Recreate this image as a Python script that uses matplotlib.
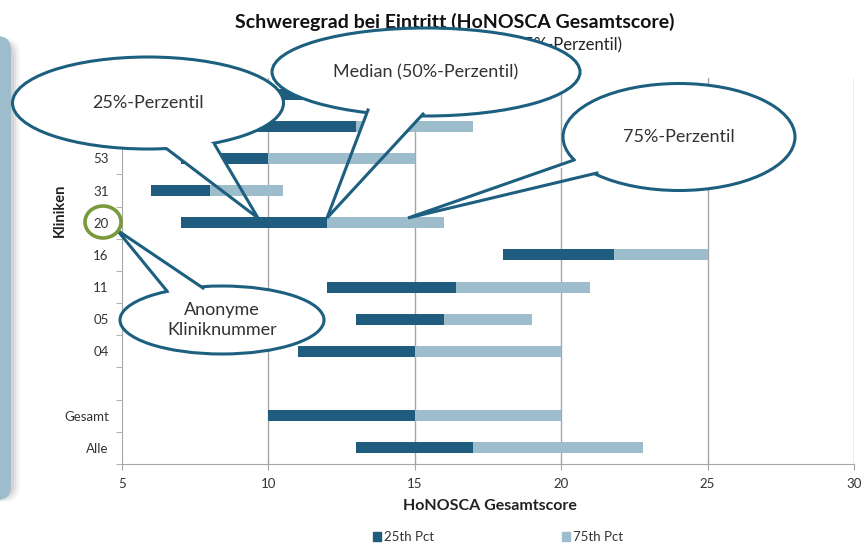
import matplotlib
matplotlib.use("Agg")
import matplotlib.pyplot as plt
import numpy as np
from matplotlib.patches import Ellipse, Polygon, FancyBboxPatch, Patch
from matplotlib.lines import Line2D
from matplotlib.transforms import Affine2D

plt.rcParams['font.family'] = ['Lato', 'DejaVu Sans']

# Kliniken von unten nach oben (leere Zeile = Abstand)
kliniken = ['Alle', 'Gesamt', '', '04', '05', '11', '16', '20', '31', '53', '62', '57']
p25 = [13, 10, np.nan, 11, 13, 12, 18, 7, 6, 7, 9, 9.5]
median = [17, 15, np.nan, 15, 16, 16.4, 21.8, 12, 8, 10, 13, 12.5]
p75 = [22.8, 20, np.nan, 20, 19, 21, 25, 16, 10.5, 15, 17, 16.5]
xticks = [5, 10, 15, 20, 25, 30]

dark = '#1f5c7e'
light = '#9dbccc'
edge = '#1d5f7f'
grid = '#a6a6a6'

W, H = 865, 546
fig = plt.figure(figsize=(W / 100, H / 100), dpi=100)
# pixel coordinates, y pointing down
px = Affine2D().scale(1 / W, -1 / H).translate(0, 1) + fig.transFigure

# left slide panel with a soft shadow
for i, a in enumerate([0.05, 0.07, 0.09, 0.12]):
    fig.add_artist(FancyBboxPatch((-40, 38 + i), 60 - 2 * i, 464 - 2 * i,
                                  boxstyle='round,pad=0,rounding_size=16',
                                  transform=px, fc='#707070', ec='none', alpha=a))
fig.add_artist(FancyBboxPatch((-40, 36), 51, 464, boxstyle='round,pad=0,rounding_size=14',
                              transform=px, fc='#9dbdcd', ec='none'))

ax = fig.add_axes([122 / W, (H - 464) / H, (854 - 122) / W, (464 - 78) / H])

y = np.arange(len(kliniken))
lo = np.array(p25, dtype=float)
mid = np.array(median, dtype=float)
hi = np.array(p75, dtype=float)
ok = ~np.isnan(lo)
ax.barh(y[ok], (mid - lo)[ok], left=lo[ok], height=0.34, color=dark, label='25th Pct', zorder=3)
ax.barh(y[ok], (hi - mid)[ok], left=mid[ok], height=0.34, color=light, label='75th Pct', zorder=3)

ax.set_xlim(5, 30)
ax.set_ylim(-0.5, len(kliniken) - 0.5)
ax.set_xticks(xticks)
ax.set_xticklabels([str(t) for t in xticks])
ax.set_yticks(y)
ax.set_yticklabels(kliniken)
ax.set_yticks(np.arange(-0.5, len(kliniken)), minor=True)
ax.tick_params(axis='y', which='major', length=0, pad=9.5, labelsize=9.5, labelcolor='#333333')
ax.tick_params(axis='y', which='minor', length=4, color=grid, direction='out')
ax.tick_params(axis='x', length=4, color=grid, labelsize=9.5, labelcolor='#333333', pad=6)
for t in xticks[1:]:
    ax.axvline(t, color=grid, lw=1, zorder=1)
for s in ['top', 'right']:
    ax.spines[s].set_visible(False)
for s in ['left', 'bottom']:
    ax.spines[s].set_color(grid)

fig.text(490, 506, 'HoNOSCA Gesamtscore', transform=px, ha='center', va='center',
         fontsize=11.5, fontweight='bold', color='#222222')
fig.text(60, 210, 'Kliniken', transform=px, ha='center', va='center', rotation=90,
         fontsize=10.5, fontweight='bold', color='#222222')

fig.text(455, 22, 'Schweregrad bei Eintritt (HoNOSCA Gesamtscore)', transform=px,
         ha='center', va='center', fontsize=14, fontweight='bold', color='#111111')
fig.text(622, 45, '(Median, 25%- und 75%-Perzentil)', transform=px,
         ha='right', va='center', fontsize=12, color='#222222')

fig.legend(handles=[Patch(color=dark, label='25th Pct'), Patch(color=light, label='75th Pct')],
           loc='center', bbox_to_anchor=(498 / W, 1 - 537 / H), ncol=2, frameon=False,
           fontsize=9.5, handlelength=0.6, handleheight=0.6, handletextpad=0.2,
           columnspacing=9.7, labelcolor='#333333')


def bubble(cx, cy, w, h, b1, b2, tip, text, z, frac=0.3, fs=13):
    fig.add_artist(Ellipse((cx, cy), w, h, transform=px, fc='white', ec=edge, lw=2.2, zorder=z))
    b1, b2, tip = np.array(b1, float), np.array(b2, float), np.array(tip, float)
    q1 = b1 + (tip - b1) * frac
    q2 = b2 + (tip - b2) * frac
    fig.add_artist(Polygon([(cx, cy), b1, q1, q2, b2], closed=True, transform=px,
                           fc='white', ec='none', zorder=z + 0.1))
    fig.add_artist(Line2D([b1[0], tip[0], b2[0]], [b1[1], tip[1], b2[1]], transform=px,
                          color=edge, lw=2.2, solid_joinstyle='miter', zorder=z + 0.2))
    fig.text(cx, cy, text, transform=px, ha='center', va='center', fontsize=fs,
             color='#333333', zorder=z + 0.3, linespacing=1.25)


bubble(148, 103, 271, 92, (167, 149), (215, 145), (258, 218), '25%-Perzentil', 5)
bubble(426, 72, 308, 88, (368, 110), (423, 114), (327, 218), 'Median (50%-Perzentil)', 6)
bubble(679, 137, 232, 107, (574, 160), (597, 173), (408, 218), '75%-Perzentil', 7, frac=0.1)
bubble(222, 320, 204, 68, (167, 291), (203, 288), (117, 230), 'Anonyme\nKliniknummer', 8)

fig.add_artist(Ellipse((103, 222), 36, 32, transform=px, fill=False, ec='#789a3a', lw=2.6, zorder=9))

fig.savefig('out.png', dpi=100)
